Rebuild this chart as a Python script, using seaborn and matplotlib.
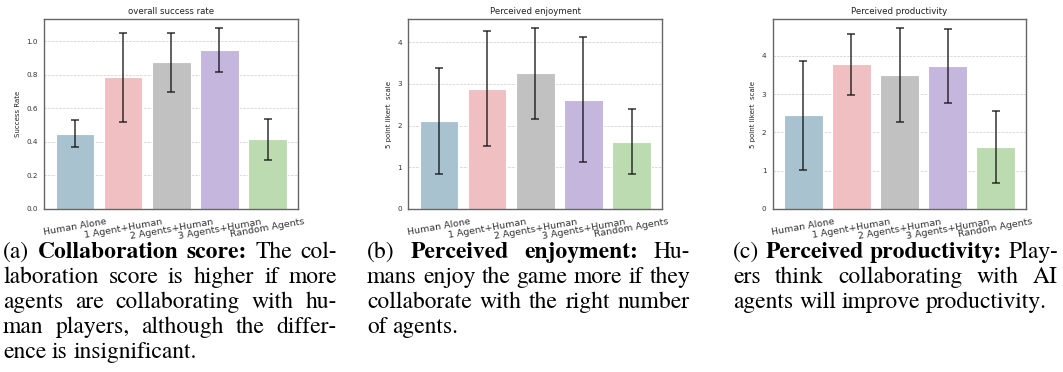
import matplotlib
matplotlib.use("Agg")
import matplotlib.pyplot as plt
from matplotlib import font_manager
import seaborn as sns
import numpy as np

# ---- data -------------------------------------------------------------
conditions = ["Human Alone", "1 Agent+Human", "2 Agents+Human",
              "3 Agents+Human", "Random Agents"]

success_mean = [0.45, 0.785, 0.875, 0.95, 0.415]
success_std = [0.08, 0.263, 0.175, 0.13, 0.123]

enjoy_mean = [2.11, 2.89, 3.25, 2.62, 1.615]
enjoy_std = [1.28, 1.37, 1.09, 1.50, 0.785]

product_mean = [2.445, 3.78, 3.50, 3.74, 1.62]
product_std = [1.425, 0.79, 1.23, 0.97, 0.93]

panel_titles = ["overall success rate", "Perceived enjoyment",
                "Perceived productivity"]
panel_ylabels = ["Success Rate", "5 point likert  scale", "5 point likert  scale"]
panel_yticks = [[0.0, 0.2, 0.4, 0.6, 0.8, 1.0], [0, 1, 2, 3, 4], [0, 1, 2, 3, 4]]

bar_colors = ["#a9c2cf", "#f0bfc1", "#c1c1c1", "#c4b6dc", "#bcdbb0"]

# caption lines: list of (text, bold) segments per line
captions = [
    [
        [("(a)", False), ("Collaboration score:", True), ("The col-", False)],
        [("laboration score is higher if more", False)],
        [("agents are collaborating with hu-", False)],
        [("man players, although the differ-", False)],
        [("ence is insignificant.", False)],
    ],
    [
        [("(b)", False), ("Perceived enjoyment:", True), ("Hu-", False)],
        [("mans enjoy the game more if they", False)],
        [("collaborate with the right number", False)],
        [("of agents.", False)],
    ],
    [
        [("(c)", False), ("Perceived productivity:", True), ("Play-", False)],
        [("ers think collaborating with AI", False)],
        [("agents will improve productivity.", False)],
    ],
]

# ---- layout -----------------------------------------------------------
W, H = 1063, 372
sns.set_style("white")
plt.rcParams["font.family"] = ["DejaVu Sans"]

# serif face for the captions (Times-metric)
installed = {f.name for f in font_manager.fontManager.ttflist}
cap_family = next((n for n in ["TeX Gyre Termes", "Liberation Serif",
                               "Times New Roman", "DejaVu Serif"]
                   if n in installed), "serif")

fig = plt.figure(figsize=(W / 100, H / 100), dpi=100)

axes_px = [(44.3, 298.3), (408.3, 662.3), (772.7, 1026.3)]
ax_top, ax_bottom = 19, 209
caption_cols = [(3, 337), (367, 690), (733, 1058)]

means = [success_mean, enjoy_mean, product_mean]
stds = [success_std, enjoy_std, product_std]

for i in range(3):
    x0, x1 = axes_px[i]
    ax = fig.add_axes([x0 / W, 1 - ax_bottom / H, (x1 - x0) / W,
                       (ax_bottom - ax_top) / H])
    m = np.array(means[i])
    s = np.array(stds[i])
    sns.barplot(x=conditions, y=m, hue=conditions, palette=bar_colors,
                legend=False, errorbar=None, saturation=1, width=0.8,
                edgecolor="white", linewidth=0.8, ax=ax, zorder=2)
    ax.errorbar(np.arange(len(conditions)), m, yerr=s, fmt="none",
                ecolor="#111111", elinewidth=1.1, capsize=2.8,
                capthick=1.1, alpha=0.85, zorder=3)
    ax.set_xlim(-0.64, len(conditions) - 1 + 0.64)
    ax.set_ylim(0, (m + s).max() * 1.05)
    ax.set_yticks(panel_yticks[i])
    ax.set_xticks(np.arange(len(conditions)))
    ax.set_xticklabels(conditions, rotation=10, fontsize=6.8)
    ax.tick_params(axis="y", labelsize=5.2, length=3, width=0.8,
                   colors="#333333", pad=1.5)
    ax.tick_params(axis="x", length=3, width=0.8, colors="#333333", pad=3)
    ax.grid(axis="y", linestyle="--", linewidth=0.5, color="#cccccc")
    ax.set_axisbelow(True)
    for sp in ax.spines.values():
        sp.set_visible(True)
        sp.set_color("#666666")
        sp.set_linewidth(1.0)
    ax.set_title(panel_titles[i], fontsize=6.2, pad=3.5, color="#222222")
    ax.set_ylabel(panel_ylabels[i], fontsize=5, color="#222222", labelpad=4)
    ax.set_xlabel("")

# ---- justified captions ----------------------------------------------
renderer = fig.canvas.get_renderer()
cap_size = 17
first_baseline = 258.0
line_step = 25.0


def text_width(word, bold):
    t = fig.text(0, 0, word, fontsize=cap_size, family=cap_family,
                 weight="bold" if bold else "normal")
    w = t.get_window_extent(renderer).width
    t.remove()
    return w


space_w = text_width("a a", False) - text_width("aa", False)

for col, lines in enumerate(captions):
    cx0, cx1 = caption_cols[col]
    for li, line in enumerate(lines):
        words = []
        for seg, bold in line:
            for w in seg.split():
                words.append((w, bold))
        widths = [text_width(w, b) for w, b in words]
        last = li == len(lines) - 1
        if last or len(words) == 1:
            gap = space_w
        else:
            gap = (cx1 - cx0 - sum(widths)) / (len(words) - 1)
        x = cx0
        y = first_baseline + li * line_step
        for (w, b), wd in zip(words, widths):
            fig.text(x / W, 1 - y / H, w, fontsize=cap_size, family=cap_family,
                     weight="bold" if b else "normal", va="baseline",
                     ha="left", color="black")
            x += wd + gap

fig.savefig("out.png", dpi=100)
